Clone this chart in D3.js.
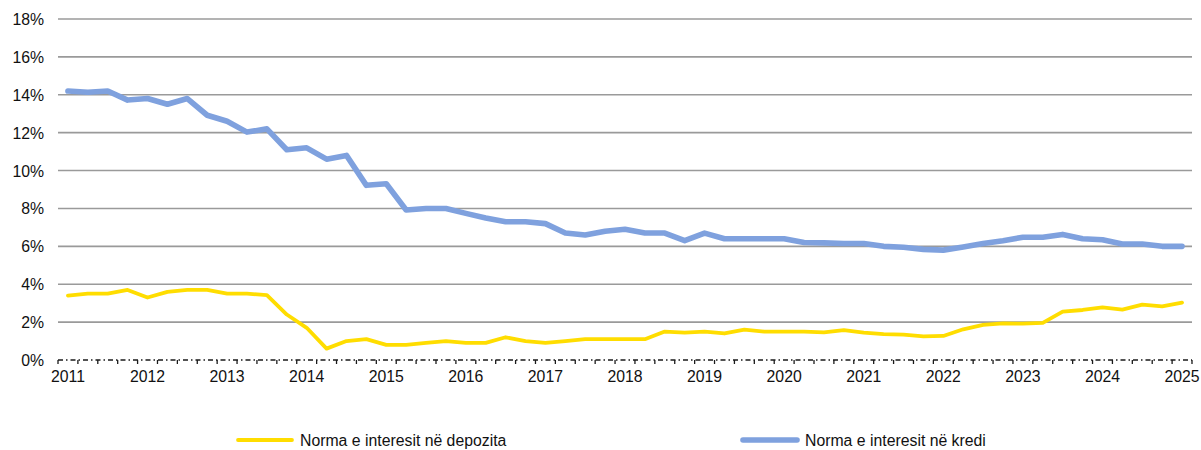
<!DOCTYPE html>
<html>
    <head>
        <meta charset="UTF-8"/>
        <style>
            body { margin: 0; background: #fff; }
            text { font-family: "Liberation Sans", Arial, sans-serif; fill: #111; }
        </style>
    </head>
    <body>
        <svg width="1201" height="450"></svg>
        <script src="https://d3js.org/d3.v7.min.js" type="text/javascript"></script>
        <script>
            // quarterly observations, 2011 .. 2025
            let years = d3.range(2011, 2026);
            let quarters = [];
            years.forEach(function(y) {
                [1, 2, 3, 4].forEach(function(q) {
                    if (y < 2025 || q === 1) quarters.push(y + "Q" + q);
                });
            });
            let yTicks = [0, 2, 4, 6, 8, 10, 12, 14, 16, 18];

            let deposits = [3.4, 3.5, 3.5, 3.7, 3.3, 3.6, 3.7, 3.7, 3.5, 3.5, 3.43, 2.4,
                1.7, 0.6, 1.0, 1.1, 0.8, 0.8, 0.9, 1.0, 0.9, 0.9, 1.2, 1.0,
                0.9, 1.0, 1.1, 1.1, 1.1, 1.1, 1.5, 1.44, 1.5, 1.4, 1.6, 1.5,
                1.5, 1.5, 1.46, 1.58, 1.45, 1.37, 1.34, 1.25, 1.27, 1.62, 1.85, 1.93,
                1.92, 1.96, 2.55, 2.64, 2.78, 2.66, 2.92, 2.83, 3.03];
            let loans = [14.2, 14.13, 14.2, 13.72, 13.8, 13.5, 13.8, 12.92, 12.6, 12.03, 12.2, 11.1,
                11.2, 10.6, 10.8, 9.22, 9.3, 7.92, 8.0, 8.0, 7.74, 7.5, 7.3, 7.3,
                7.2, 6.7, 6.6, 6.8, 6.9, 6.7, 6.7, 6.3, 6.7, 6.4, 6.4, 6.4,
                6.4, 6.2, 6.18, 6.15, 6.15, 6.0, 5.95, 5.84, 5.8, 5.97, 6.15, 6.3,
                6.48, 6.48, 6.63, 6.4, 6.35, 6.12, 6.12, 6.0, 6.0];

            let seriesNames = ["Norma e interesit në depozita", "Norma e interesit në kredi"];
            let seriesColors = ["#ffdd00", "#7fa1de"];
            let seriesWidths = [3.8, 5.6];

            let svg = d3.select("svg"),
                plotLeft = 58, plotRight = 1192, plotTop = 19, plotBottom = 360,
                fontSize = 15.8;

            let x = d3.scaleBand().domain(quarters).range([plotLeft, plotRight]);
            let y = d3.scaleLinear().domain([0, 18]).range([plotBottom, plotTop]);
            let cx = function(d, i) { return x(quarters[i]) + x.bandwidth() / 2; };

            // gridlines
            svg.append("g")
                .selectAll("line")
                .data(yTicks.slice(1))
                .enter()
                .append("line")
                .attr("x1", plotLeft)
                .attr("x2", plotRight)
                .attr("y1", function(d) { return y(d); })
                .attr("y2", function(d) { return y(d); })
                .attr("stroke", "#9a9a9a")
                .attr("stroke-width", 1.6);

            // y labels
            svg.append("g")
                .selectAll("text")
                .data(yTicks)
                .enter()
                .append("text")
                .attr("x", 44)
                .attr("y", function(d) { return y(d) + 6; })
                .attr("text-anchor", "end")
                .attr("font-size", fontSize)
                .text(function(d) { return d + "%"; });

            // x axis: dash-dot baseline with short ticks at band edges
            svg.append("line")
                .attr("x1", plotLeft)
                .attr("x2", plotRight)
                .attr("y1", plotBottom)
                .attr("y2", plotBottom)
                .attr("stroke", "#1a1a1a")
                .attr("stroke-width", 1.5)
                .attr("stroke-dasharray", "5,3,1.5,3");
            let edges = quarters.map(function(q) { return x(q); }).concat([plotRight]);
            svg.append("g")
                .selectAll("line")
                .data(edges)
                .enter()
                .append("line")
                .attr("x1", function(d) { return d; })
                .attr("x2", function(d) { return d; })
                .attr("y1", plotBottom)
                .attr("y2", plotBottom + 4)
                .attr("stroke", "#1a1a1a")
                .attr("stroke-width", 1.3);

            svg.append("g")
                .selectAll("text")
                .data(years)
                .enter()
                .append("text")
                .attr("x", function(d) { return x(d + "Q1") + x.bandwidth() / 2; })
                .attr("y", 382)
                .attr("text-anchor", "middle")
                .attr("font-size", fontSize)
                .text(function(d) { return d; });

            // lines
            let line = d3.line()
                .x(cx)
                .y(function(d) { return y(d); });
            svg.append("g")
                .selectAll("path")
                .data([deposits, loans])
                .enter()
                .append("path")
                .attr("d", line)
                .attr("fill", "none")
                .attr("stroke", function(d, i) { return seriesColors[i]; })
                .attr("stroke-width", function(d, i) { return seriesWidths[i]; })
                .attr("stroke-linejoin", "round")
                .attr("stroke-linecap", "round");

            // legend
            let legendX = [238, 743];
            let legend = svg.append("g")
                .selectAll("g")
                .data(seriesNames)
                .enter()
                .append("g")
                .attr("transform", function(d, i) { return "translate(" + legendX[i] + ",440)"; });
            legend.append("line")
                .attr("x1", 0)
                .attr("x2", 54)
                .attr("stroke", function(d, i) { return seriesColors[i]; })
                .attr("stroke-width", function(d, i) { return seriesWidths[i]; })
                .attr("stroke-linecap", "round");
            legend.append("text")
                .attr("x", 62)
                .attr("y", 5.6)
                .attr("font-size", fontSize)
                .text(function(d) { return d; });
        </script>
    </body>
</html>
